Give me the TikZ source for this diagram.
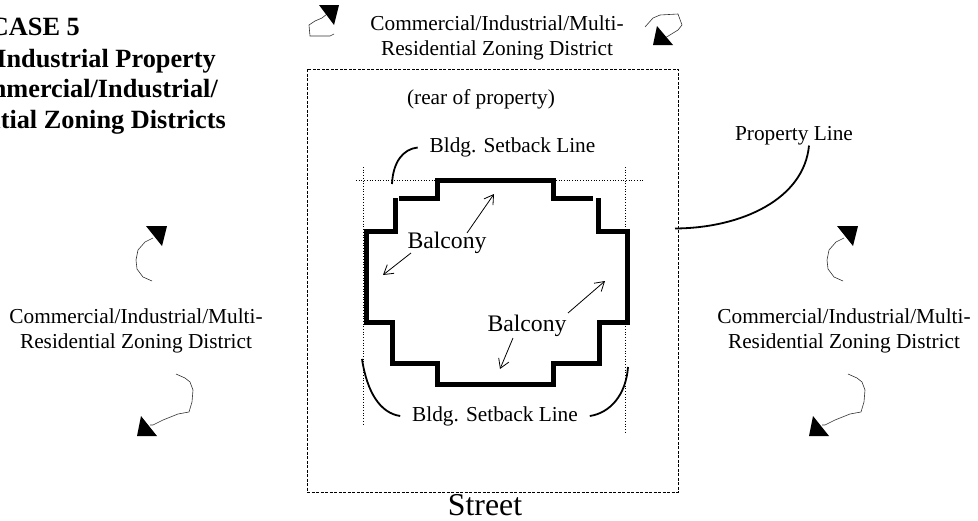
\documentclass[tikz,border=0pt]{standalone}
\usepackage{fontspec}
\setmainfont{Liberation Serif}
\usetikzlibrary{arrows.meta}
\tikzset{
    zonelabel/.style={inner sep=0pt, align=center, font=\fontsize{21.3}{24.5}\selectfont},
    setbacklabel/.style={zonelabel, outer xsep=12pt},
    biglabel/.style={inner sep=0pt, font=\fontsize{23.7}{26}\selectfont},
    titleline/.style={inner sep=0pt, anchor=base east, font=\bfseries\fontsize{26.3}{30}\selectfont},
    curl/.style={line width=0.6pt, black!80},
    tip/.style={fill=black},
    leader/.style={line width=1.8pt},
    note/.style={line width=0.8pt, -{Straight Barb[length=9pt,width=11pt]}}
}
\begin{document}
\begin{tikzpicture}[x=1pt,y=-1pt]
    \useasboundingbox (0,0) rectangle (978,520);

    % Title, cut off by the page edge
    \begin{scope}
        \clip (0,0) rectangle (978,520);
        \node[titleline] (titlea) at (80,35.5) {CASE 5};
        \node[titleline] (titleb) at (216,67) {Industrial Property};
        \node[titleline] (titlec) at (218,97.5) {Commercial/Industrial/};
        \node[titleline] (titled) at (226,128) {Residential Zoning Districts};
    \end{scope}

    % Property line and setback lines
    \draw[line width=1pt, dash pattern=on 3pt off 1.5pt] (307,69) rectangle (678,492);
    \draw[line width=0.7pt, dotted] (356,180) -- (643,180);
    \draw[line width=0.7pt, dotted] (363.5,167) -- (363.5,426);
    \draw[line width=0.7pt, dotted] (625.5,167) -- (625.5,432);

    % Building outline
    \draw[line width=5pt] (399,198) -- (437,198) -- (437,180) -- (553,180) -- (553,198) -- (593,198);
    \draw[line width=5pt] (395,198) -- (395,231) -- (366,231) -- (366,322) -- (392,322) -- (392,363)
        -- (437,363) -- (437,384) -- (553,384) -- (553,363) -- (599,363) -- (599,322) -- (627,322)
        -- (627,231) -- (598,231) -- (598,198);

    % Labels
    \node[zonelabel] (zonetop) at (497,38) {Commercial/Industrial/Multi-\\Residential Zoning District};
    \node[zonelabel] (zoneleft) at (136,331) {Commercial/Industrial/Multi-\\Residential Zoning District};
    \node[zonelabel] (zoneright) at (844,331) {Commercial/Industrial/Multi-\\Residential Zoning District};
    \node[zonelabel] (rear) at (481,99) {(rear of property)};
    \node[setbacklabel] (setbacktop) at (512.5,147.5) {Bldg. Setback Line};
    \node[setbacklabel] (setbackbottom) at (495,416) {Bldg. Setback Line};
    \node[zonelabel] (propline) at (794,136) {Property Line};
    \node[biglabel] (balconya) at (447,243) {Balcony};
    \node[biglabel] (balconyb) at (527,326) {Balcony};
    \node[inner sep=0pt, font=\fontsize{31.8}{34}\selectfont] (street) at (485,505) {Street};

    % Balcony arrows
    \coordinate (tipa) at (494,194);
    \coordinate (tipb) at (383,275);
    \coordinate (tipc) at (605,281);
    \coordinate (tipd) at (500,369);
    \draw[note] ([shift={(20,-10)}]balconya.center) -- (tipa);
    \draw[note] ([shift={(-36,10)}]balconya.center) -- (tipb);
    \draw[note] ([shift={(41,-13)}]balconyb.center) -- (tipc);
    \draw[note] ([shift={(-14,12)}]balconyb.center) -- (tipd);

    % Leaders
    \coordinate (setbacka) at (392,184);
    \coordinate (setbackb) at (362,359);
    \coordinate (setbackc) at (628,367);
    \coordinate (propend) at (675,228.5);
    \draw[leader] (setbacka) .. controls (393,162) and (403,149) .. (setbacktop.west);
    \draw[leader] (setbackb) .. controls (367,392) and (380,413) .. (setbackbottom.west);
    \draw[leader] (setbackc) .. controls (626,395) and (610,413) .. (setbackbottom.east);
    \draw[leader] (propend) .. controls (742,228) and (804,199) .. ([xshift=15pt]propline.south);

    % Curled arrows beside the left and right labels
    \foreach \dx in {0,691} {
        \begin{scope}[shift={(\dx,0)}]
            \draw[curl] (152,281) -- (143,277) -- (137,269) -- (136,260) -- (138,250) -- (145,242) -- (153,238);
            \fill[tip] (146,226) -- (167,226) -- (162,246) -- cycle;
        \end{scope}
    }
    \foreach \dx in {0,672} {
        \begin{scope}[shift={(\dx,0)}]
            \draw[curl] (176,374) -- (185,378) -- (190,382) -- (193,390) -- (192,402) -- (189,412) -- (178,414)
                -- (163,420) -- (153,425) -- (150,425);
            \fill[tip] (141,416) -- (137,436) -- (157,436) -- cycle;
        \end{scope}
    }

    % Curled arrows beside the top label
    \draw[curl] (334,34) -- (330,36) -- (310,36) -- (309,25) -- (315,21) -- (322,18) -- (327,14);
    \fill[tip] (319,5) -- (339,5) -- (334,25) -- cycle;
    \draw[curl] (645,27) -- (653,18) -- (660,15) -- (678,14) -- (682,25) -- (678,30) -- (665,38);
    \fill[tip] (657,26) -- (653,45) -- (673,45) -- cycle;
\end{tikzpicture}
\end{document}
